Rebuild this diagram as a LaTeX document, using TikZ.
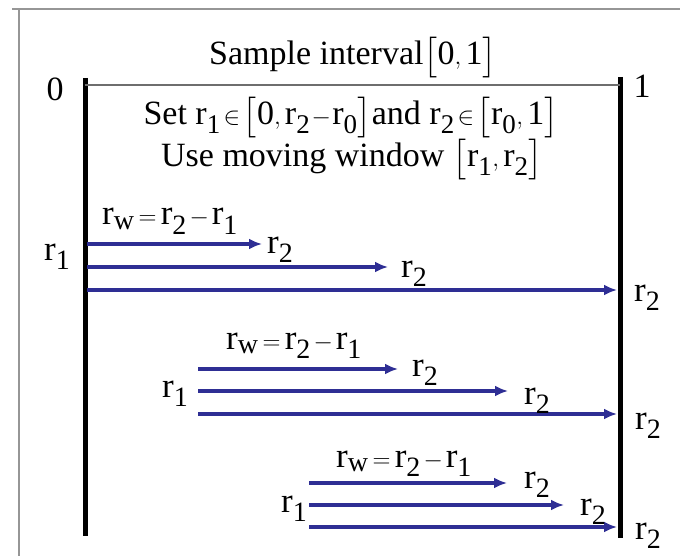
\documentclass[tikz,border=0pt]{standalone}
\usepackage{amsmath,amssymb}
\usepackage{fontspec}
\setmainfont{Liberation Serif}
\usepackage{tikz}
\usetikzlibrary{arrows.meta,positioning}
\definecolor{winblue}{RGB}{46,46,148}
\definecolor{framegray}{RGB}{150,150,150}
\definecolor{linegray}{RGB}{110,110,110}
\DeclareMathSizes{34}{34}{27}{20}
\DeclareMathSizes{35}{35}{28}{20}
\newcommand{\rr}[1]{\mathrm{r}_{\mathrm{#1}}}
\newcommand{\nm}[1]{\mathrm{#1}}

\begin{document}
\begin{tikzpicture}[x=1pt,y=-1pt,>=Stealth,
    bar/.style={line width=5pt},
    win/.style={winblue,line width=3.6pt,-{Latex[length=13pt,width=11pt]}},
    lbl/.style={inner sep=0pt,anchor=base west,font=\fontsize{35}{38}\selectfont},
    head/.style={inner sep=0pt,font=\fontsize{34}{38}\selectfont}]

    \useasboundingbox (0,0) rectangle (680,556);

    % Frame
    \draw[framegray,line width=2pt] (12,9) -- (680,9);
    \draw[framegray,line width=2pt] (19,9) -- (19,556);

    % Interval ends
    \coordinate (lt) at (85,78);
    \coordinate (lb) at (85,536);
    \coordinate (rt) at (620,77);
    \coordinate (rb) at (620,538);
    \coordinate (il) at (85,85);
    \coordinate (ir) at (620,85);
    \draw[bar] (lt) -- (lb);
    \draw[bar] (rt) -- (rb);
    \draw[linegray,line width=1.8pt] (il) -- (ir);
    \node[head] (zero) at (55,89) {0};
    \node[head] (one) at (642,86) {1};

    % Text
    \node[head] (title) at (353,58) {Sample interval$\bigl[\nm0,\nm1\bigr]$};
    \node[head] (setline) at (351,118) {Set $\rr1\!\in\!\bigl[\nm0,\rr2\!-\!\rr0\bigr]$and $\rr2\!\in\!\bigl[\rr0,\nm1\bigr]$};
    \node[head] (useline) at (352,160) {Use moving window $\bigl[\rr1,\rr2\bigr]$};

    % First window set
    \node[lbl] (rw1) at (102,225) {$\rr{w}\mkern-2mu=\mkern-2mu\rr2\mkern-2mu-\mkern-2mu\rr1$};
    \node[lbl] (ra1) at (44,260) {$\rr1$};
    \coordinate (s11) at (87,244);
    \coordinate (s12) at (87,267);
    \coordinate (s13) at (87,290);
    \coordinate (e11) at (262,244);
    \coordinate (e12) at (388,267);
    \coordinate (e13) at (617,290);
    \draw[win] (s11) -- (e11);
    \draw[win] (s12) -- (e12);
    \draw[win] (s13) -- (e13);
    \node[lbl] (rb11) at (267,253) {$\rr2$};
    \node[lbl] (rb12) at (401,277) {$\rr2$};
    \node[lbl] (rb13) at (634,301) {$\rr2$};

    % Second window set
    \node[lbl] (rw2) at (226,349) {$\rr{w}\mkern-2mu=\mkern-2mu\rr2\mkern-2mu-\mkern-2mu\rr1$};
    \node[lbl] (ra2) at (162,397) {$\rr1$};
    \coordinate (s21) at (198,369);
    \coordinate (s22) at (198,391);
    \coordinate (s23) at (198,414);
    \coordinate (e21) at (398,369);
    \coordinate (e22) at (508,391);
    \coordinate (e23) at (617,414);
    \draw[win] (s21) -- (e21);
    \draw[win] (s22) -- (e22);
    \draw[win] (s23) -- (e23);
    \node[lbl] (rb21) at (412,376) {$\rr2$};
    \node[lbl] (rb22) at (524,404) {$\rr2$};
    \node[lbl] (rb23) at (635,429) {$\rr2$};

    % Third window set
    \node[lbl] (rw3) at (336,467) {$\rr{w}\mkern-2mu=\mkern-2mu\rr2\mkern-2mu-\mkern-2mu\rr1$};
    \node[lbl] (ra3) at (281,512) {$\rr1$};
    \coordinate (s31) at (309,483);
    \coordinate (s32) at (309,505);
    \coordinate (s33) at (309,527);
    \coordinate (e31) at (507,483);
    \coordinate (e32) at (564,505);
    \coordinate (e33) at (617,527);
    \draw[win] (s31) -- (e31);
    \draw[win] (s32) -- (e32);
    \draw[win] (s33) -- (e33);
    \node[lbl] (rb31) at (524,488) {$\rr2$};
    \node[lbl] (rb32) at (580,515) {$\rr2$};
    \node[lbl] (rb33) at (635,539) {$\rr2$};

\end{tikzpicture}
\end{document}
